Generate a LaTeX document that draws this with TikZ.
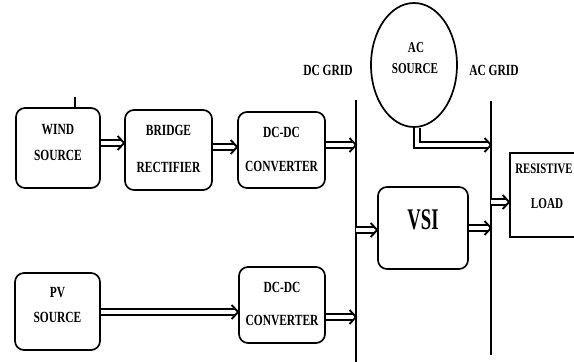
\documentclass[tikz,border=0pt]{standalone}
\usepackage{fontspec}
\setmainfont{Liberation Serif}[FakeStretch=0.74, BoldFont={Liberation Serif Bold}, BoldFeatures={FakeStretch=0.74}]
\usetikzlibrary{arrows.meta,shapes.geometric}
\newcommand\myhead[1]{\draw[headst] ([shift={(-6.5,-7)}]#1) -- (#1) -- ([shift={(-6.5,7)}]#1);}
\begin{document}
\begin{tikzpicture}[x=1pt,y=-1pt,
  box/.style={draw, line width=1.7pt, rounded corners=9pt, inner sep=0pt},
  sqbox/.style={draw, line width=1.7pt, inner sep=0pt},
  lbl/.style={font=\fontsize{15.5}{17}\selectfont\bfseries, inner sep=0pt},
  bus/.style={line width=1.7pt},
  dbl/.style={double, double distance=3.8pt, line width=1.7pt, shorten >=2.2pt},
  headst/.style={line width=1.9pt, line join=miter, line cap=butt}]
\useasboundingbox (0,0) rectangle (574,362);
\clip (0,0) rectangle (574,362);
% boxes
\node[box, minimum width=84pt, minimum height=80pt] (wind) at (58,148) {};
\node[box, minimum width=87pt, minimum height=80pt] (bridge) at (168.5,150) {};
\node[box, minimum width=87pt, minimum height=76pt] (dcA) at (281.5,150) {};
\node[box, minimum width=85pt, minimum height=77pt] (pv) at (57.5,311.5) {};
\node[box, minimum width=86pt, minimum height=76pt] (dcB) at (282,305) {};
\node[box, minimum width=90pt, minimum height=82pt] (vsi) at (423,228) {};
\node[sqbox, minimum width=80pt, minimum height=84pt] (load) at (550,195) {};
\node[ellipse, draw, line width=1.7pt, minimum width=86pt, minimum height=124pt, inner sep=0pt] (acs) at (414,65) {};
% texts
\node[lbl] (t1) at (58,130) {WIND};
\node[lbl] (t2) at (58,155) {SOURCE};
\node[lbl] (t3) at (168.5,130) {BRIDGE};
\node[lbl] (t4) at (168.5,167) {RECTIFIER};
\node[lbl] (t5) at (281.5,132) {DC-DC};
\node[lbl] (t6) at (281.5,166) {CONVERTER};
\node[lbl] (t7) at (57.5,293) {PV};
\node[lbl] (t8) at (57.5,317) {SOURCE};
\node[lbl] (t9) at (282,287) {DC-DC};
\node[lbl] (t10) at (282,320) {CONVERTER};
\node[lbl, font=\fontsize{30}{32}\selectfont\bfseries] (t11) at (423,220) {\scalebox{0.84}[1]{VSI}};
\node[lbl, font=\fontsize{14.5}{16}\selectfont\bfseries] (t12) at (544,169) {RESISTIVE};
\node[lbl, font=\fontsize{15}{16}\selectfont\bfseries] (t13) at (547,204) {LOAD};
\node[lbl, font=\fontsize{15}{16}\selectfont\bfseries] (t14) at (416,48) {AC};
\node[lbl, font=\fontsize{15}{16}\selectfont\bfseries] (t15) at (415,69) {SOURCE};
\node[lbl] (t16) at (328,70) {DC GRID};
\node[lbl] (t17) at (494,70) {AC GRID};
% grid buses
\coordinate (dcT) at (356,100);
\coordinate (dcE) at (356,362);
\coordinate (acT) at (491,101);
\coordinate (acE) at (491,355);
\draw[bus] (dcT) -- (dcE);
\draw[bus] (acT) -- (acE);
% tick on wind source
\coordinate (tick) at (75,97);
\draw[line width=1.3pt] (tick) -- (tick |- wind.north);
% arrow end points (derived from the named nodes)
\path ([yshift=5pt]wind.east) coordinate (a1s) ([yshift=5pt]wind.east -| bridge.west) coordinate (a1e);
\path ([yshift=3pt]bridge.east) coordinate (a2s) ([yshift=3pt]bridge.east -| dcA.west) coordinate (a2e);
\path ([yshift=5pt]dcA.east) coordinate (a3s) ([yshift=5pt]dcA.east -| dcT) coordinate (a3e);
\path ([yshift=-0.5pt]pv.east) coordinate (a4s) ([yshift=-0.5pt]pv.east -| dcB.west) coordinate (a4e);
\path ([yshift=-12pt]dcB.east) coordinate (a5s) ([yshift=-12pt]dcB.east -| dcT) coordinate (a5e);
\path ([yshift=-2pt]vsi.west -| dcT) coordinate (a6s) ([yshift=-2pt]vsi.west) coordinate (a6e);
\path (vsi.east) coordinate (a7s) (vsi.east -| acT) coordinate (a7e);
\path ([yshift=-7pt]load.west -| acT) coordinate (a8s) ([yshift=-7pt]load.west) coordinate (a8e);
\coordinate (bend) at (417,145);
\path (acs.south -| bend) coordinate (a9s) (bend -| acT) coordinate (a9e);
% arrows
\draw[dbl] (a1s) -- (a1e); \myhead{a1e}
\draw[dbl] (a2s) -- (a2e); \myhead{a2e}
\draw[dbl] (a3s) -- (a3e); \myhead{a3e}
\draw[dbl] (a4s) -- (a4e); \myhead{a4e}
\draw[dbl] (a5s) -- (a5e); \myhead{a5e}
\draw[dbl] (a6s) -- (a6e); \myhead{a6e}
\draw[dbl] (a7s) -- (a7e); \myhead{a7e}
\draw[dbl] (a8s) -- (a8e); \myhead{a8e}
\draw[dbl] (a9s) -- (bend) -- (a9e); \myhead{a9e}
\end{tikzpicture}
\end{document}
